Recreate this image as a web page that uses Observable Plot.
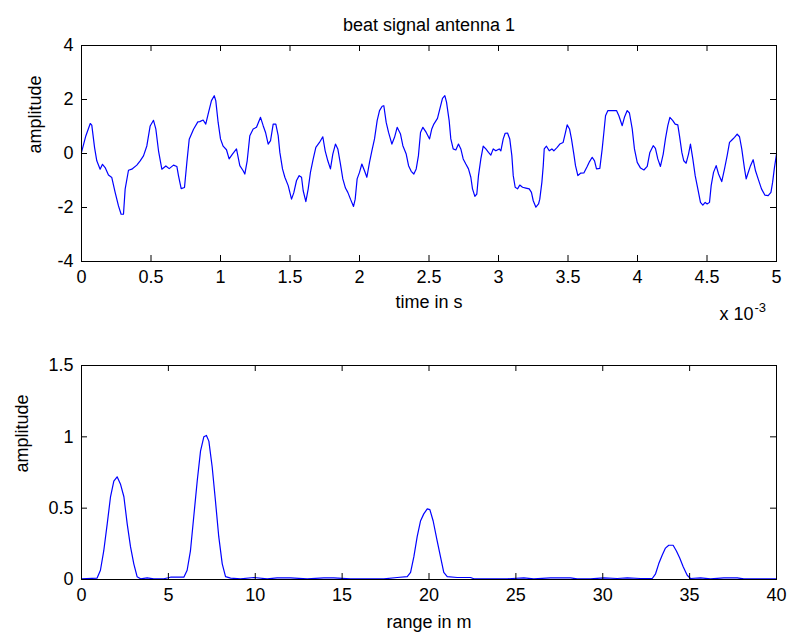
<!DOCTYPE html>
<html>
<head>
<meta charset="utf-8">
<script src="https://cdn.jsdelivr.net/npm/d3@7"></script>
<script src="https://cdn.jsdelivr.net/npm/@observablehq/plot@0.6"></script>
<style>
  html, body { margin: 0; padding: 0; background: #ffffff; }
  #chart { width: 787px; height: 637px; position: relative; }
  #chart svg { display: block; }
</style>
</head>
<body>
<div id="chart"></div>
<script>
// ---------- top panel: beat signal (time in units of 10^-3 s) ----------
const timeTicks = [0, 0.5, 1, 1.5, 2, 2.5, 3, 3.5, 4, 4.5, 5];
const beatTicks = [-4, -2, 0, 2, 4];
const timeMs = [
  0, 0.031, 0.063, 0.074, 0.094, 0.11, 0.134, 0.151, 0.17, 0.194, 0.218, 0.242, 0.266, 0.285, 0.302, 0.314, 0.338, 0.362, 0.398, 0.422,
  0.446, 0.47, 0.494, 0.518, 0.535, 0.554, 0.578, 0.607, 0.631, 0.662, 0.686, 0.698, 0.717, 0.741, 0.758, 0.775, 0.806, 0.837,
  0.851, 0.875, 0.894, 0.911, 0.935, 0.955, 0.966, 0.983, 1.0, 1.019, 1.043, 1.062, 1.086, 1.115, 1.139, 1.163, 1.175, 1.192, 1.211, 1.235,
  1.259, 1.288, 1.307, 1.324, 1.343, 1.36, 1.379, 1.398, 1.415, 1.427, 1.446, 1.463, 1.487, 1.511, 1.527, 1.547, 1.566, 1.583, 1.595, 1.614,
  1.631, 1.647, 1.667, 1.686,
  1.712, 1.736, 1.753, 1.772, 1.791, 1.808, 1.827, 1.844, 1.863, 1.88, 1.899, 1.916, 1.935, 1.957, 1.969, 1.983, 2.0, 2.017, 2.036, 2.053,
  2.072, 2.089, 2.108, 2.127, 2.144, 2.163, 2.175, 2.192, 2.209, 2.233, 2.252, 2.271, 2.295, 2.312, 2.336, 2.353, 2.372, 2.391, 2.408, 2.424,
  2.439, 2.456, 2.48, 2.504, 2.52, 2.535,
  2.561, 2.578, 2.597, 2.614, 2.626, 2.645, 2.657, 2.674, 2.693, 2.712, 2.729, 2.746, 2.765, 2.784, 2.801, 2.813, 2.83, 2.844, 2.856, 2.873,
  2.89, 2.909, 2.928, 2.945, 2.962, 2.981, 3.005, 3.017, 3.034, 3.048, 3.065, 3.081, 3.096, 3.106, 3.12, 3.137, 3.153, 3.173, 3.197, 3.221,
  3.237, 3.25, 3.269, 3.288, 3.297, 3.312, 3.322, 3.329, 3.345, 3.365, 3.384,
  3.398, 3.422, 3.441, 3.465, 3.482, 3.494, 3.511, 3.525, 3.542, 3.554, 3.571, 3.59, 3.614, 3.638, 3.655, 3.674, 3.691, 3.705, 3.729, 3.746,
  3.758, 3.77, 3.787, 3.818, 3.849, 3.866, 3.89, 3.906, 3.926, 3.942, 3.962, 3.978, 3.998, 4.022, 4.046, 4.07, 4.089, 4.113, 4.129, 4.146,
  4.165, 4.185, 4.201, 4.218, 4.233,
  4.254, 4.271, 4.29, 4.302, 4.319, 4.333, 4.35, 4.367, 4.381, 4.398, 4.415, 4.434, 4.453, 4.47, 4.487, 4.501, 4.518, 4.53, 4.547, 4.566,
  4.583, 4.606, 4.626, 4.645, 4.662, 4.681, 4.698, 4.717, 4.734, 4.75, 4.77, 4.782, 4.793, 4.813, 4.832, 4.849, 4.868, 4.892, 4.916, 4.94,
  4.96, 4.972, 4.984, 5.0
];
const beatAmp = [
  0.04, 0.65, 1.11, 1.05, 0.22, -0.27, -0.58, -0.4, -0.52, -0.8, -0.89, -1.44, -1.94, -2.25, -2.25, -1.32, -0.62, -0.58, -0.43, -0.27,
  -0.09, 0.28, 1.02, 1.23, 0.9, 0.1, -0.58, -0.46, -0.56, -0.43, -0.48, -0.83, -1.3, -1.26, -0.33, 0.53, 0.9, 1.17,
  1.18, 1.24, 1.09, 1.46, 1.96, 2.14, 1.96, 1.15, 0.54, 0.27, 0.14, -0.2, -0.02, 0.17, -0.45, -0.64, -0.76, -0.27, 0.66, 0.91,
  0.97, 1.34, 1.03, 0.78, 0.35, 0.48, 1.09, 1.09, 0.66, 0.04, -0.57, -0.88, -1.19, -1.69, -1.46, -1.0, -0.82, -0.88, -1.38, -1.78,
  -1.31, -0.7, -0.2, 0.23,
  0.41, 0.62, 0.1, -0.27, -0.57, -0.02, 0.35, 0.17, -0.39, -0.94, -1.28, -1.44, -1.69, -1.96, -1.69, -0.94, -0.7, -0.39, -0.64, -0.88,
  -0.33, 0.1, 0.54, 1.22, 1.59, 1.75, 1.77, 1.15, 0.78, 0.35, 0.6, 0.97, 0.72, 0.29, -0.02, -0.45, -0.66, -0.76, -0.57, -0.08,
  0.78, 0.97, 0.78, 0.54, 0.91, 1.09,
  1.3, 1.65, 2.04, 2.14, 1.9, 1.22, 0.54, 0.17, 0.13, 0.35, 0.17, -0.2, -0.39, -0.57, -0.88, -1.31, -1.59, -1.5, -0.82, -0.2,
  0.27, 0.17, 0.04, -0.06, 0.17, 0.1, 0.17, 0.1, 0.54, 0.75, 0.76, 0.54, -0.08, -0.82, -1.25, -1.31, -1.17, -1.25, -1.28, -1.31,
  -1.44, -1.75, -1.99, -1.87, -1.69, -1.07, -0.45, 0.17, 0.27, 0.1, 0.17,
  0.1, 0.23, 0.35, 0.41, 0.78, 1.06, 0.91, 0.54, -0.02, -0.45, -0.82, -0.73, -0.72, -0.48, -0.3, -0.14, -0.27, -0.57, -0.55, 0.17,
  0.78, 1.4, 1.59, 1.59, 1.59, 1.4, 1.03, 1.34, 1.59, 1.5, 0.91, 0.17, -0.33, -0.54, -0.61, -0.48, 0.04, 0.29, 0.19, -0.2,
  -0.48, -0.02, 0.54, 1.03, 1.34,
  1.22, 1.09, 1.06, 0.66, 0.04, -0.27, -0.36, -0.02, 0.35, -0.2, -0.82, -1.31, -1.81, -1.91, -1.81, -1.87, -1.81, -1.19, -0.7, -0.45,
  -0.76, -1.04, -0.57, -0.08, 0.41, 0.51, 0.6, 0.72, 0.62, 0.17, -0.57, -0.94, -0.76, -0.45, -0.23, -0.64, -0.94, -1.31, -1.54, -1.56,
  -1.44, -1.07, -0.57, -0.02
];

// ---------- bottom panel: range spectrum ----------
const rangeTicks = [0, 5, 10, 15, 20, 25, 30, 35, 40];
const specTicks = [0, 0.5, 1, 1.5];
const rangeM = [
  0, 0.9, 1.09, 1.28, 1.48, 1.67, 1.86, 2.05, 2.24, 2.44, 2.63, 2.82, 3.01, 3.2, 3.4, 3.78, 4.16, 4.74, 5.12, 5.89,
  6.08, 6.27, 6.46, 6.66, 6.85, 7.04, 7.19, 7.33, 7.52, 7.71, 7.9, 8.1, 8.29, 8.58, 9.15, 9.92, 10.69, 11.26, 12.03, 12.99,
  13.95, 14.52, 15.48, 16.44, 17.4, 18.17, 18.75, 18.94, 19.13, 19.32, 19.51, 19.7, 19.9, 20.05, 20.24, 20.47, 20.66, 20.85, 21.05, 21.62,
  22.39, 22.58, 23.54, 24.5, 25.46, 26.03, 26.99, 28.14, 28.53, 29.29, 30.06, 30.83, 31.41, 32.17, 32.85, 33.04, 33.22, 33.42, 33.61, 33.8,
  34.05, 34.24, 34.43, 34.63, 34.86, 35.05, 35.63, 36.2, 36.97, 37.74, 38.12, 38.89, 40
];
const specAmp = [
  0.005, 0.01, 0.065, 0.2, 0.39, 0.58, 0.69, 0.72, 0.67, 0.58, 0.39, 0.23, 0.11, 0.02, 0.005, 0.012, 0.005, 0.005, 0.016, 0.016,
  0.065, 0.2, 0.44, 0.69, 0.9, 1.0, 1.01, 0.97, 0.79, 0.55, 0.3, 0.11, 0.02, 0.01, 0.005, 0.014, 0.005, 0.012, 0.012, 0.005,
  0.012, 0.012, 0.005, 0.005, 0.005, 0.014, 0.02, 0.05, 0.16, 0.3, 0.41, 0.46, 0.495, 0.49, 0.41, 0.27, 0.16, 0.05, 0.02, 0.014,
  0.014, 0.005, 0.005, 0.005, 0.012, 0.005, 0.012, 0.012, 0.005, 0.005, 0.012, 0.007, 0.012, 0.007, 0.007, 0.04, 0.11, 0.17, 0.22, 0.24,
  0.24, 0.2, 0.15, 0.09, 0.03, 0.007, 0.012, 0.005, 0.012, 0.012, 0.005, 0.005, 0.005
];

const FONT = "'Liberation Sans', Arial, Helvetica, sans-serif";
const FS = 18;
const W = 787, ML = 81, MR = 11;
const FW = W - ML - MR;

function panel({x, y, xDomain, yDomain, xTicks, yTicks, height, marginTop, marginBottom, extra}) {
  const FH = height - marginTop - marginBottom;
  const data = d3.zip(x, y).map(([a, b]) => ({x: a, y: b}));
  return Plot.plot({
    width: W, height, marginLeft: ML, marginRight: MR, marginTop, marginBottom,
    style: {fontFamily: FONT, fontSize: FS + "px", color: "black", background: "white", overflow: "visible"},
    x: {domain: xDomain},
    y: {domain: yDomain},
    marks: [
      Plot.line(data, {x: "x", y: "y", stroke: "#0000ff", strokeWidth: 1.2}),
      Plot.frame({stroke: "black", strokeWidth: 1}),
      Plot.tickX(xTicks, {x: d => d, insetTop: FH - 6, stroke: "black"}),
      Plot.tickX(xTicks, {x: d => d, insetBottom: FH - 6, stroke: "black"}),
      Plot.tickY(yTicks, {y: d => d, insetRight: FW - 6, stroke: "black"}),
      Plot.tickY(yTicks, {y: d => d, insetLeft: FW - 6, stroke: "black"}),
      Plot.axisX({ticks: xTicks, tickSize: 0, tickPadding: 9, fontSize: FS, tickFormat: d => String(d), label: null}),
      Plot.axisY({ticks: yTicks, tickSize: 0, tickPadding: 8, fontSize: FS, tickFormat: d => String(d), label: null}),
      ...extra
    ]
  });
}

const topPanel = panel({
  x: timeMs, y: beatAmp, xDomain: [0, 5], yDomain: [-4, 4], xTicks: timeTicks, yTicks: beatTicks,
  height: 335, marginTop: 45, marginBottom: 74,
  extra: [
    Plot.text(["beat signal antenna 1"], {frameAnchor: "top", dy: -27, fontSize: FS}),
    Plot.text(["time in s"], {frameAnchor: "bottom", dy: 46, fontSize: FS}),
    Plot.text(["amplitude"], {frameAnchor: "left", dx: -46, rotate: -90, fontSize: FS}),
    Plot.text(["x 10"], {frameAnchor: "bottom-right", dx: -23, dy: 58, textAnchor: "end", fontSize: FS}),
    Plot.text(["-3"], {frameAnchor: "bottom-right", dx: -22, dy: 50, textAnchor: "start", fontSize: 13})
  ]
});

const bottomPanel = panel({
  x: rangeM, y: specAmp, xDomain: [0, 40], yDomain: [0, 1.5], xTicks: rangeTicks, yTicks: specTicks,
  height: 302, marginTop: 30, marginBottom: 58,
  extra: [
    Plot.text(["range in m"], {frameAnchor: "bottom", dy: 48, fontSize: FS}),
    Plot.text(["amplitude"], {frameAnchor: "left", dx: -59, rotate: -90, fontSize: FS})
  ]
});

const chartEl = document.getElementById("chart");
chartEl.appendChild(topPanel);
chartEl.appendChild(bottomPanel);
</script>
</body>
</html>
